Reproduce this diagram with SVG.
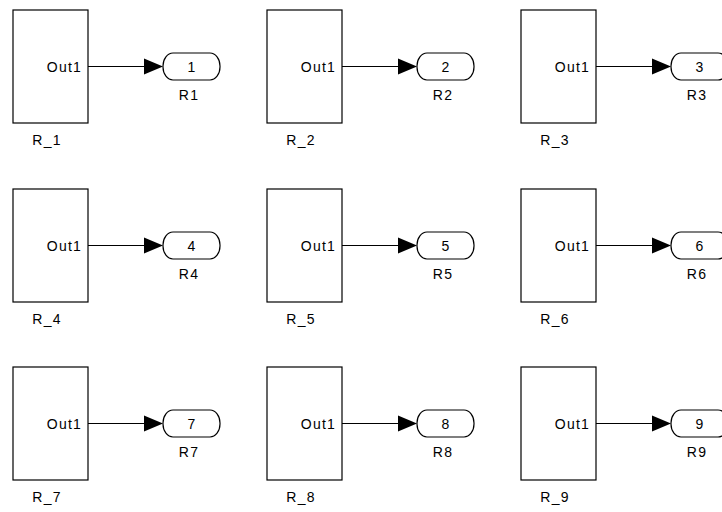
<svg xmlns="http://www.w3.org/2000/svg" width="722" height="512" viewBox="0 0 722 512">
<defs>
<style>
.blk{fill:#fff;stroke:#000;stroke-width:1.2}
.port{fill:#fff;stroke:#000;stroke-width:1.2}
.wire{stroke:#000;stroke-width:1.2;fill:none}
.ah{fill:#000}
text{font-family:"Liberation Sans",Arial,sans-serif;font-size:14px;letter-spacing:1.2px;fill:#000}
.c{text-anchor:middle}
.r{text-anchor:end}
</style>
</defs>
<rect width="722" height="512" fill="#fff"/>
<g id="connectors">
<line class="wire" x1="88" y1="66.5" x2="146" y2="66.5"/><polygon class="ah" points="144,58.5 163,66.5 144,74.5"/>
<line class="wire" x1="342" y1="66.5" x2="400" y2="66.5"/><polygon class="ah" points="398,58.5 417,66.5 398,74.5"/>
<line class="wire" x1="596" y1="66.5" x2="654" y2="66.5"/><polygon class="ah" points="652,58.5 671,66.5 652,74.5"/>
<line class="wire" x1="88" y1="245.5" x2="146" y2="245.5"/><polygon class="ah" points="144,237.5 163,245.5 144,253.5"/>
<line class="wire" x1="342" y1="245.5" x2="400" y2="245.5"/><polygon class="ah" points="398,237.5 417,245.5 398,253.5"/>
<line class="wire" x1="596" y1="245.5" x2="654" y2="245.5"/><polygon class="ah" points="652,237.5 671,245.5 652,253.5"/>
<line class="wire" x1="88" y1="423.5" x2="146" y2="423.5"/><polygon class="ah" points="144,415.5 163,423.5 144,431.5"/>
<line class="wire" x1="342" y1="423.5" x2="400" y2="423.5"/><polygon class="ah" points="398,415.5 417,423.5 398,431.5"/>
<line class="wire" x1="596" y1="423.5" x2="654" y2="423.5"/><polygon class="ah" points="652,415.5 671,423.5 652,431.5"/>
</g>
<g id="R_1"><rect class="blk" x="13" y="10" width="75" height="113"/><text class="r" x="82" y="71.5">Out1</text><text class="c" x="47" y="145">R_1</text></g>
<g id="R_2"><rect class="blk" x="267" y="10" width="75" height="113"/><text class="r" x="336" y="71.5">Out1</text><text class="c" x="301" y="145">R_2</text></g>
<g id="R_3"><rect class="blk" x="521" y="10" width="75" height="113"/><text class="r" x="590" y="71.5">Out1</text><text class="c" x="555" y="145">R_3</text></g>
<g id="R_4"><rect class="blk" x="13" y="189" width="75" height="113"/><text class="r" x="82" y="250.5">Out1</text><text class="c" x="47" y="324">R_4</text></g>
<g id="R_5"><rect class="blk" x="267" y="189" width="75" height="113"/><text class="r" x="336" y="250.5">Out1</text><text class="c" x="301" y="324">R_5</text></g>
<g id="R_6"><rect class="blk" x="521" y="189" width="75" height="113"/><text class="r" x="590" y="250.5">Out1</text><text class="c" x="555" y="324">R_6</text></g>
<g id="R_7"><rect class="blk" x="13" y="367" width="75" height="113"/><text class="r" x="82" y="428.5">Out1</text><text class="c" x="47" y="502">R_7</text></g>
<g id="R_8"><rect class="blk" x="267" y="367" width="75" height="113"/><text class="r" x="336" y="428.5">Out1</text><text class="c" x="301" y="502">R_8</text></g>
<g id="R_9"><rect class="blk" x="521" y="367" width="75" height="113"/><text class="r" x="590" y="428.5">Out1</text><text class="c" x="555" y="502">R_9</text></g>
<g id="R1"><rect class="port" x="163" y="53" width="57" height="27" rx="10" ry="13"/><text class="c" x="192" y="71.5">1</text><text class="c" x="189" y="100">R1</text></g>
<g id="R2"><rect class="port" x="417" y="53" width="57" height="27" rx="10" ry="13"/><text class="c" x="446" y="71.5">2</text><text class="c" x="443" y="100">R2</text></g>
<g id="R3"><rect class="port" x="671" y="53" width="57" height="27" rx="10" ry="13"/><text class="c" x="700" y="71.5">3</text><text class="c" x="697" y="100">R3</text></g>
<g id="R4"><rect class="port" x="163" y="232" width="57" height="27" rx="10" ry="13"/><text class="c" x="192" y="250.5">4</text><text class="c" x="189" y="279">R4</text></g>
<g id="R5"><rect class="port" x="417" y="232" width="57" height="27" rx="10" ry="13"/><text class="c" x="446" y="250.5">5</text><text class="c" x="443" y="279">R5</text></g>
<g id="R6"><rect class="port" x="671" y="232" width="57" height="27" rx="10" ry="13"/><text class="c" x="700" y="250.5">6</text><text class="c" x="697" y="279">R6</text></g>
<g id="R7"><rect class="port" x="163" y="410" width="57" height="27" rx="10" ry="13"/><text class="c" x="192" y="428.5">7</text><text class="c" x="189" y="457">R7</text></g>
<g id="R8"><rect class="port" x="417" y="410" width="57" height="27" rx="10" ry="13"/><text class="c" x="446" y="428.5">8</text><text class="c" x="443" y="457">R8</text></g>
<g id="R9"><rect class="port" x="671" y="410" width="57" height="27" rx="10" ry="13"/><text class="c" x="700" y="428.5">9</text><text class="c" x="697" y="457">R9</text></g>
</svg>
